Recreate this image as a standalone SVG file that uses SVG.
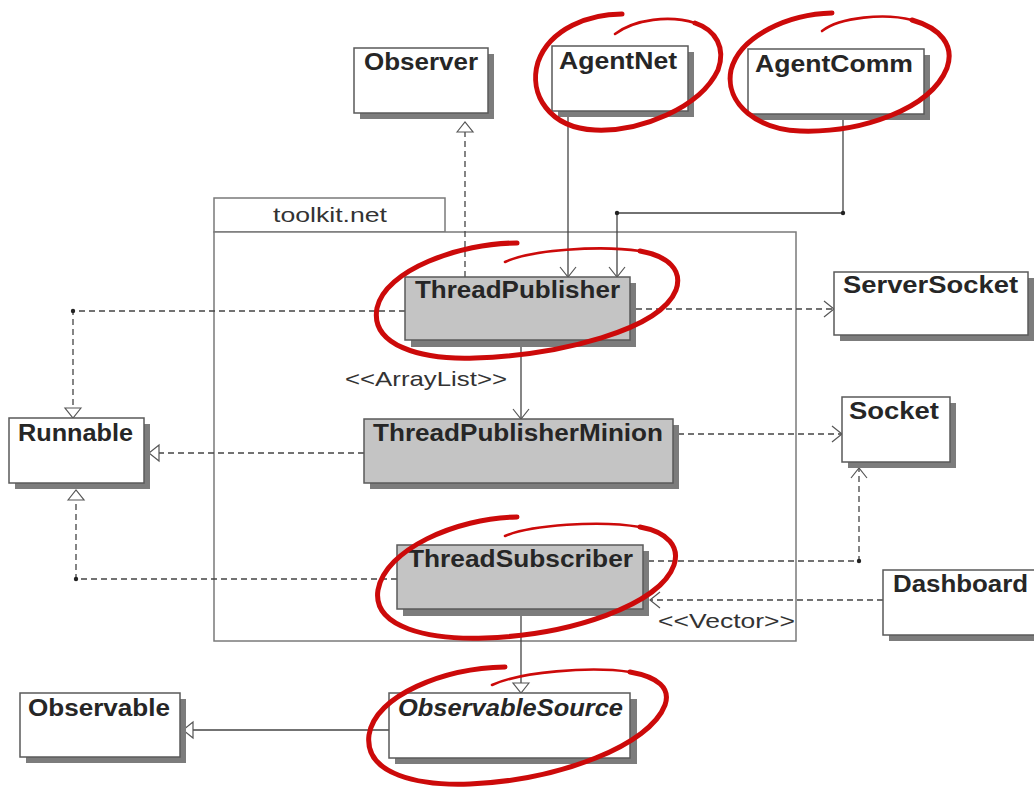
<svg xmlns="http://www.w3.org/2000/svg" width="1034" height="787" viewBox="0 0 1034 787">
  <defs>
    <style>
      .shadow { fill: #7c7c7c; }
      .box { fill: #ffffff; stroke: #5a5a5a; stroke-width: 1.5; }
      .box.active { fill: #c4c4c4; }
      .name { font-family: "Liberation Sans", Arial, sans-serif; font-weight: bold; font-size: 23px; fill: #262626; }
      .name.abstract { font-style: italic; }
      .plain { font-family: "Liberation Sans", Arial, sans-serif; font-size: 21px; fill: #333333; }
      .pkg { fill: #ffffff; stroke: #7a7a7a; stroke-width: 1.5; }
      .link { fill: none; stroke: #444444; stroke-width: 1.3; }
      .dep { stroke-dasharray: 6 4; }
      .dot { fill: #222222; }
      .mark { fill: #ffffff; stroke: #555555; stroke-width: 1.2; stroke-linejoin: miter; }
      .open { fill: none; stroke: #555555; stroke-width: 1.2; }
      .ring { fill: none; stroke: #cc0a0a; stroke-linecap: round; stroke-linejoin: round; }
    </style>
    <!-- hollow triangle: realization / generalization -->
    <marker id="tri" markerUnits="userSpaceOnUse" markerWidth="12" markerHeight="18" refX="11" refY="8.5" orient="auto" overflow="visible">
      <path class="mark" d="M1 0.5 L11 8.5 L1 16.5 Z"/>
    </marker>
    <!-- open arrow: association / dependency -->
    <marker id="arr" markerUnits="userSpaceOnUse" markerWidth="12" markerHeight="18" refX="11" refY="8.5" orient="auto" overflow="visible">
      <path class="open" d="M1 0.5 L11 8.5 L1 16.5"/>
    </marker>
  </defs>

  <rect width="1034" height="787" fill="#ffffff"/>

  <!-- package frame -->
  <g id="package-toolkit-net">
    <rect class="pkg" x="214" y="198" width="231" height="34"/>
    <rect class="pkg" x="214" y="232" width="582" height="409"/>
    <text class="plain" x="273" y="222" textLength="114" lengthAdjust="spacingAndGlyphs">toolkit.net</text>
  </g>

  <!-- relationships -->
  <g id="connectors">
    <path class="link dep" d="M465 277 V122" marker-end="url(#tri)"/>
    <path class="link" d="M568 111 V277" marker-end="url(#arr)"/>
    <path class="link" d="M843 114 V213 H617 V277" marker-end="url(#arr)"/>
    <circle class="dot" cx="843" cy="213" r="2.2"/>
    <circle class="dot" cx="617" cy="213" r="2.2"/>
    <path class="link dep" d="M636 309 H834" marker-end="url(#arr)"/>
    <path class="link dep" d="M405 311 H73 V418" marker-end="url(#tri)"/>
    <circle class="dot" cx="73" cy="311" r="2.2"/>
    <path class="link" d="M521 347 V419" marker-end="url(#arr)"/>
    <text class="plain" x="345" y="386" textLength="162" lengthAdjust="spacingAndGlyphs">&lt;&lt;ArrayList&gt;&gt;</text>
    <path class="link dep" d="M678 434 H842" marker-end="url(#arr)"/>
    <path class="link dep" d="M364 453 H149" marker-end="url(#tri)"/>
    <path class="link dep" d="M397 579 H76 V490" marker-end="url(#tri)"/>
    <circle class="dot" cx="76" cy="579" r="2.2"/>
    <path class="link dep" d="M648 561 H859 V468" marker-end="url(#arr)"/>
    <circle class="dot" cx="859" cy="561" r="2.2"/>
    <path class="link dep" d="M883 600 H650" marker-end="url(#arr)"/>
    <text class="plain" x="658" y="628" textLength="137" lengthAdjust="spacingAndGlyphs">&lt;&lt;Vector&gt;&gt;</text>
    <path class="link" d="M521 616 V693" marker-end="url(#tri)"/>
    <path class="link" d="M389 730 H183" marker-end="url(#tri)"/>
  </g>

  <!-- classes -->
  <g id="observer">
    <rect class="shadow" x="360" y="54" width="134" height="65"/>
    <rect class="box" x="354" y="48" width="134" height="65"/>
    <text class="name" x="364" y="70" textLength="114" lengthAdjust="spacingAndGlyphs">Observer</text>
  </g>
  <g id="agent-net">
    <rect class="shadow" x="558" y="52" width="136" height="65"/>
    <rect class="box" x="552" y="46" width="136" height="65"/>
    <text class="name" x="559" y="69" textLength="118" lengthAdjust="spacingAndGlyphs">AgentNet</text>
  </g>
  <g id="agent-comm">
    <rect class="shadow" x="754" y="55" width="176" height="65"/>
    <rect class="box" x="748" y="49" width="176" height="65"/>
    <text class="name" x="755" y="72" textLength="158" lengthAdjust="spacingAndGlyphs">AgentComm</text>
  </g>
  <g id="thread-publisher">
    <rect class="shadow" x="411" y="283" width="225" height="64"/>
    <rect class="box active" x="405" y="277" width="225" height="63"/>
    <text class="name" x="415" y="298" textLength="205" lengthAdjust="spacingAndGlyphs">ThreadPublisher</text>
  </g>
  <g id="server-socket">
    <rect class="shadow" x="840" y="278" width="194" height="63"/>
    <rect class="box" x="834" y="272" width="194" height="63"/>
    <text class="name" x="843" y="293" textLength="175" lengthAdjust="spacingAndGlyphs">ServerSocket</text>
  </g>
  <g id="runnable">
    <rect class="shadow" x="15" y="424" width="135" height="65"/>
    <rect class="box" x="9" y="418" width="135" height="65"/>
    <text class="name" x="18" y="441" textLength="115" lengthAdjust="spacingAndGlyphs">Runnable</text>
  </g>
  <g id="thread-publisher-minion">
    <rect class="shadow" x="370" y="425" width="309" height="64"/>
    <rect class="box active" x="364" y="419" width="309" height="64"/>
    <text class="name" x="373" y="441" textLength="290" lengthAdjust="spacingAndGlyphs">ThreadPublisherMinion</text>
  </g>
  <g id="socket">
    <rect class="shadow" x="848" y="403" width="108" height="65"/>
    <rect class="box" x="842" y="397" width="108" height="65"/>
    <text class="name" x="849" y="419" textLength="90" lengthAdjust="spacingAndGlyphs">Socket</text>
  </g>
  <g id="thread-subscriber">
    <rect class="shadow" x="403" y="551" width="246" height="65"/>
    <rect class="box active" x="397" y="545" width="246" height="64"/>
    <text class="name" x="408" y="567" textLength="225" lengthAdjust="spacingAndGlyphs">ThreadSubscriber</text>
  </g>
  <g id="dashboard">
    <rect class="shadow" x="889" y="576" width="160" height="65"/>
    <rect class="box" x="883" y="570" width="160" height="65"/>
    <text class="name" x="893" y="592" textLength="135" lengthAdjust="spacingAndGlyphs">Dashboard</text>
  </g>
  <g id="observable">
    <rect class="shadow" x="26" y="699" width="160" height="64"/>
    <rect class="box" x="20" y="693" width="160" height="64"/>
    <text class="name" x="28" y="716" textLength="142" lengthAdjust="spacingAndGlyphs">Observable</text>
  </g>
  <g id="observable-source">
    <rect class="shadow" x="395" y="699" width="242" height="65"/>
    <rect class="box" x="389" y="693" width="241" height="65"/>
    <text class="name abstract" x="398" y="716" textLength="225" lengthAdjust="spacingAndGlyphs">ObservableSource</text>
  </g>

  <!-- hand-drawn red rings -->
  <g id="highlights">
    <path class="ring" stroke-width="5" d="M622 14 C590 14 550 28 538 62 C528 95 550 128 595 130 C640 132 700 108 718 70 C726 48 716 30 695 23"/>
    <path class="ring" stroke-width="2.6" d="M695 23 C670 15 635 19 615 34"/>

    <path class="ring" stroke-width="5" d="M832 13 C790 14 740 35 731 70 C724 105 760 130 800 131 C860 133 930 110 947 68 C955 45 940 28 912 20"/>
    <path class="ring" stroke-width="2.6" d="M912 20 C885 13 840 17 822 31"/>

    <path class="ring" stroke-width="5" d="M517 243 C460 243 385 270 377 308 C370 345 420 360 475 358 C560 355 660 330 676 290 C683 270 668 256 640 251"/>
    <path class="ring" stroke-width="2.6" d="M640 251 C600 245 530 250 505 262"/>

    <path class="ring" stroke-width="5" d="M517 517 C455 518 385 550 378 590 C372 628 430 640 485 638 C570 635 660 605 674 565 C680 547 668 532 640 527"/>
    <path class="ring" stroke-width="2.6" d="M640 527 C600 520 530 525 505 536"/>

    <path class="ring" stroke-width="5" d="M505 667 C445 668 375 695 369 735 C364 775 420 786 470 784 C560 780 650 745 665 705 C671 688 658 677 630 672"/>
    <path class="ring" stroke-width="2.6" d="M630 672 C590 666 520 672 492 685"/>
  </g>
</svg>
